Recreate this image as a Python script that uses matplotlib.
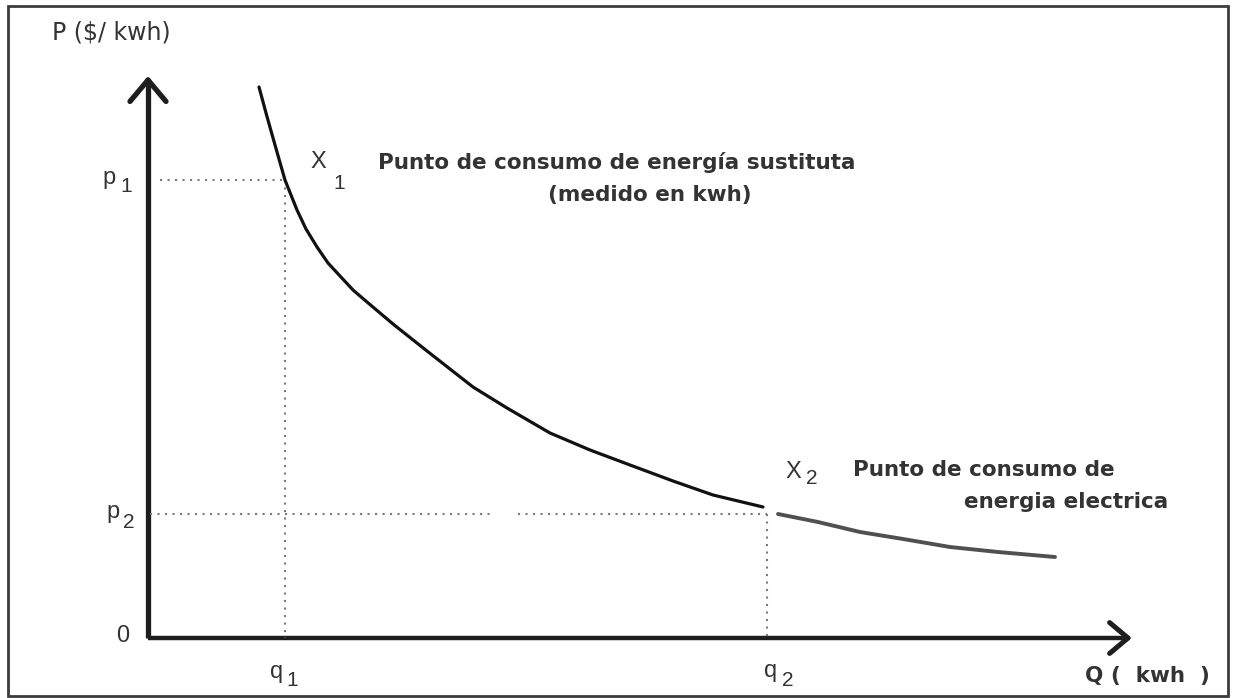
import numpy as np
import matplotlib
matplotlib.use('Agg')
import matplotlib.pyplot as plt
from matplotlib.patches import Rectangle

# data (arbitrary units, origin at the axes corner)
curve_q = [1.11, 1.18, 1.27, 1.37, 1.49, 1.58, 1.69, 1.80, 1.92, 2.05, 2.19,
           2.45, 2.79, 3.25, 3.59, 4.02, 4.42, 4.82, 5.25, 5.65, 6.15]
curve_p = [5.51, 5.25, 4.93, 4.58, 4.28, 4.09, 3.91, 3.75, 3.62, 3.48, 3.36,
           3.14, 2.87, 2.51, 2.30, 2.05, 1.88, 1.73, 1.57, 1.43, 1.31]
# lighter tail after X2
tail_q = [6.30, 6.70, 7.12, 7.55, 8.02, 8.50, 9.07]
tail_p = [1.24, 1.16, 1.06, 0.99, 0.91, 0.86, 0.81]

q_marks = [1.37, 6.19]   # q1, q2
p_marks = [4.58, 1.24]   # p1, p2
p2_gap = (3.42, 3.70)    # break in the p2 guide line
x_axis_end = 9.80
y_axis_end = 5.58

ink = '#1e1e1e'
txt = '#333333'
dot = '#7a7a7a'

fig = plt.figure(figsize=(12.33, 6.98), dpi=100)
ax = fig.add_axes([0, 0, 1, 1])
# 100 px per unit on both axes, origin at pixel (148, 638)
ax.set_xlim(-1.48, 10.85)
ax.set_ylim(-0.60, 6.38)
ax.axis('off')

# outer frame
ax.add_patch(Rectangle((-1.40, -0.58), 12.20, 6.90, fill=False,
                       edgecolor='#3c3c3c', linewidth=2.0, zorder=1))

# axes lines
ax.plot([0, 0], [0, y_axis_end], color=ink, lw=3.8, solid_capstyle='butt')
ax.plot([0, x_axis_end], [0, 0], color=ink, lw=3.2, solid_capstyle='butt')

# open arrow heads
def arrow_head(tip, direction, size=0.26, lw=3.8):
    d = np.array(direction, float)
    d /= np.linalg.norm(d)
    for ang in (np.deg2rad(140), np.deg2rad(-140)):
        rot = np.array([[np.cos(ang), -np.sin(ang)], [np.sin(ang), np.cos(ang)]])
        arm = rot @ d * size
        ax.plot([tip[0], tip[0] + arm[0]], [tip[1], tip[1] + arm[1]],
                color=ink, lw=lw, solid_capstyle='round')

arrow_head((0, y_axis_end), (0, 1), size=0.28)
arrow_head((x_axis_end, 0), (1, 0), size=0.24, lw=3.6)

# dotted guide lines
dot_style = dict(color=dot, lw=1.5, linestyle=(0, (1, 2.6)))
ax.plot([0.12, q_marks[0]], [p_marks[0], p_marks[0]], **dot_style)
ax.plot([q_marks[0], q_marks[0]], [p_marks[0], 0], **dot_style)
ax.plot([0.02, p2_gap[0]], [p_marks[1], p_marks[1]], **dot_style)
ax.plot([p2_gap[1], q_marks[1]], [p_marks[1], p_marks[1]], **dot_style)
ax.plot([q_marks[1], q_marks[1]], [p_marks[1], 0], **dot_style)

# demand curve
ax.plot(curve_q, curve_p, color='#111111', lw=2.3, solid_capstyle='round',
        solid_joinstyle='round')
ax.plot(tail_q, tail_p, color='#505050', lw=2.8, solid_capstyle='round',
        solid_joinstyle='round')

# labels
lab = dict(color=txt, family='Liberation Sans', fontsize=17, va='center', ha='center')
sub = dict(color=txt, family='Liberation Sans', fontsize=15, va='center', ha='center')
ax.text(-0.96, 6.05, 'P ($/ kwh)', color=txt, family='DejaVu Sans',
        fontsize=17, va='center', ha='left')
ax.text(-0.39, 4.60, 'p', **lab)
ax.text(-0.22, 4.52, '1', **sub)
ax.text(-0.35, 1.26, 'p', **lab)
ax.text(-0.19, 1.16, '2', **sub)
ax.text(-0.25, 0.02, '0', **lab)
ax.text(q_marks[0] - 0.08, -0.34, 'q', **lab)
ax.text(q_marks[0] + 0.07, -0.43, '1', **sub)
ax.text(q_marks[1] + 0.04, -0.33, 'q', **lab)
ax.text(q_marks[1] + 0.21, -0.43, '2', **sub)
ax.text(1.70, 4.76, 'X', **lab)
ax.text(1.91, 4.54, '1', **sub)
ax.text(6.45, 1.66, 'X', **lab)
ax.text(6.64, 1.59, '2', **sub)

bold = dict(color=txt, family='DejaVu Sans', fontweight='bold', fontsize=15.5, va='center')
ax.text(2.30, 4.75, 'Punto de consumo de energía sustituta', ha='left', **bold)
ax.text(5.02, 4.43, '(medido en kwh)', ha='center', **bold)
ax.text(7.05, 1.68, 'Punto de consumo de', ha='left', **bold)
ax.text(10.20, 1.36, 'energia electrica', ha='right', **bold)
ax.text(9.37, -0.38, 'Q (  kwh  )', ha='left', **bold)

fig.savefig('out.png', dpi=100)
